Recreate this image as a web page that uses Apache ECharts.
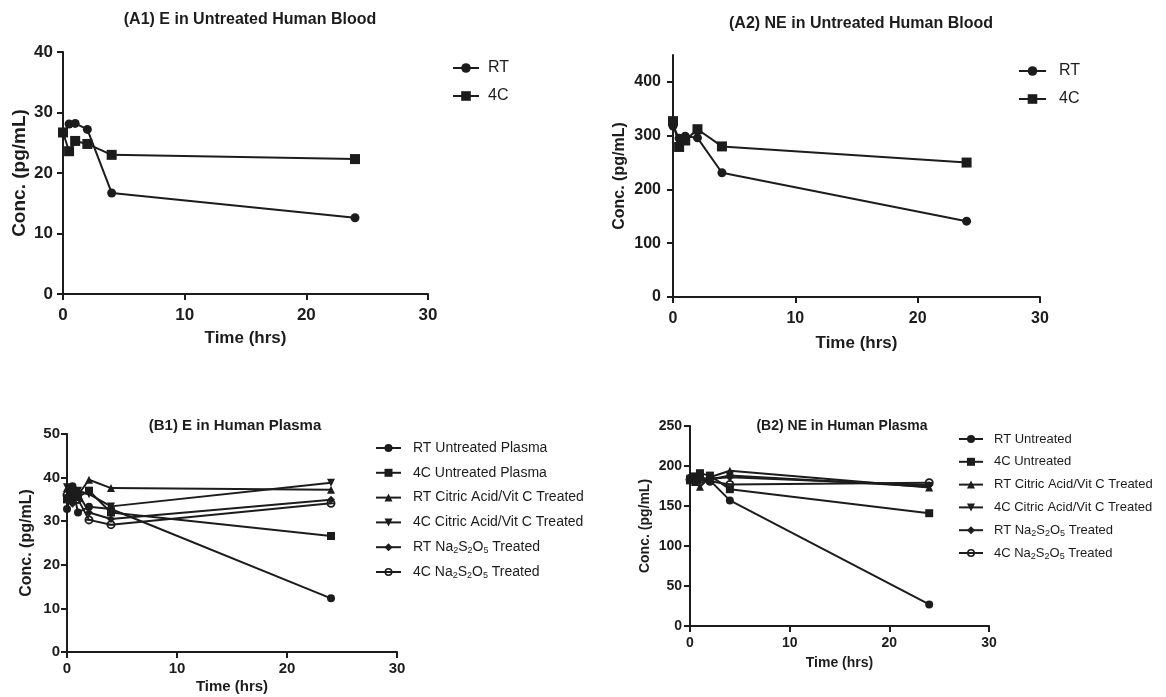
<!DOCTYPE html>
<html>
<head>
<meta charset="utf-8">
<title>Catecholamine stability</title>
<script src="https://cdn.jsdelivr.net/npm/echarts@6/dist/echarts.min.js"></script>
<style>
  html, body { margin: 0; padding: 0; background: #fff; }
  #chart { width: 1166px; height: 697px; }
</style>
</head>
<body>
<div id="chart"></div>
<script>
// sampling times (hrs)
var times = [0, 0.5, 1, 2, 4, 24];

// (A1) E in untreated human blood, pg/mL
var a1RT = [26.6, 28.1, 28.2, 27.2, 16.7, 12.6];
var a1C4 = [26.7, 23.6, 25.3, 24.8, 23.0, 22.3];

// (A2) NE in untreated human blood
var a2RT = [318, 295, 299, 296, 231, 141];
var a2C4 = [327, 279, 291, 312, 280, 250];

// (B1) E in human plasma
var b1Names = ['RT Untreated Plasma', '4C Untreated Plasma', 'RT Citric Acid/Vit C Treated',
    '4C Citric Acid/Vit C Treated', 'RT Na2S2O5 Treated', '4C Na2S2O5 Treated'];
var b1RTUntr = [32.8, 38.0, 32.0, 33.3, 32.8, 12.3];
var b1C4Untr = [35.0, 36.5, 35.5, 37.0, 32.0, 26.6];
var b1RTCit = [37.6, 37.0, 36.0, 39.5, 37.6, 37.2];
var b1C4Cit = [37.8, 35.0, 37.0, 36.2, 33.4, 38.8];
var b1RTNa = [35.5, 34.0, 36.5, 32.0, 30.5, 34.9];
var b1C4Na = [36.0, 36.8, 35.0, 30.3, 29.2, 34.1];

// (B2) NE in human plasma
var b2Names = ['RT Untreated', '4C Untreated', 'RT Citric Acid/Vit C Treated',
    '4C Citric Acid/Vit C Treated', 'RT Na2S2O5 Treated', '4C Na2S2O5 Treated'];
var b2RTUntr = [185, 183, 186, 182, 157, 27];
var b2C4Untr = [182, 187, 191, 188, 171, 141];
var b2RTCit = [183, 180, 174, 186, 194, 173];
var b2C4Cit = [184, 186, 182, 183, 188, 174];
var b2RTNa = [186, 184, 185, 184, 186, 176];
var b2C4Na = [183, 181, 183, 181, 177, 179];

// axis ticks
var xTicks = [0, 10, 20, 30];
var a2YTicks = [0, 100, 200, 300, 400];

var ink = '#1c1c1c';
var font = 'Liberation Sans, Arial, sans-serif';
// ring with a bar through it, for the 4C Na2S2O5 series
var ringBar = 'path://M0,-10A10,10,0,1,1,0,10A10,10,0,1,1,0,-10Z M0,-6A6,6,0,1,0,0,6A6,6,0,1,0,0,-6Z M-6,-1.8H6V1.8H-6Z';
var shapes = ['circle', 'rect', 'triangle', 'path://M-10,-10L10,-10L0,10Z', 'diamond', ringBar];

function pairs(vals) {
    return times.map(function (t, i) { return [t, vals[i]]; });
}

function xAxisFor(idx, labelSize, nameSize, nameGap, margin) {
    return {
        gridIndex: idx, type: 'value', min: 0, max: 30, interval: 10,
        name: 'Time (hrs)', nameLocation: 'middle', nameGap: nameGap,
        nameTextStyle: { fontFamily: font, fontWeight: 'bold', fontSize: nameSize, color: ink },
        axisLine: { lineStyle: { color: ink, width: 2 } },
        axisTick: { length: 6, lineStyle: { color: ink, width: 2 }, customValues: xTicks },
        axisLabel: { fontFamily: font, fontWeight: 'bold', fontSize: labelSize, color: ink, margin: margin, customValues: xTicks },
        splitLine: { show: false }
    };
}

function yAxisFor(idx, max, interval, labelSize, nameSize, nameGap, margin, ticks) {
    var ax = {
        gridIndex: idx, type: 'value', min: 0, max: max, interval: interval,
        name: 'Conc. (pg/mL)', nameLocation: 'middle', nameGap: nameGap,
        nameTextStyle: { fontFamily: font, fontWeight: 'bold', fontSize: nameSize, color: ink },
        axisLine: { show: true, lineStyle: { color: ink, width: 2 } },
        axisTick: { show: true, length: 6, lineStyle: { color: ink, width: 2 } },
        axisLabel: { fontFamily: font, fontWeight: 'bold', fontSize: labelSize, color: ink, margin: margin },
        splitLine: { show: false }
    };
    if (ticks) {
        ax.axisTick.customValues = ticks;
        ax.axisLabel.customValues = ticks;
    }
    return ax;
}

function lineSeries(name, vals, idx, symbol, size) {
    return {
        name: name, type: 'line', xAxisIndex: idx, yAxisIndex: idx,
        data: pairs(vals), symbol: symbol, symbolSize: size,
        lineStyle: { color: ink, width: 2 },
        itemStyle: { color: ink },
        animation: false
    };
}

function subFormatter(name) {
    return name.replace('Na2S2O5', 'Na{sub|2}S{sub|2}O{sub|5}');
}

var subRich = { sub: { fontSize: 9, fontFamily: font, color: ink, padding: [7, 0, 0, 0] } };

var b1Vals = [b1RTUntr, b1C4Untr, b1RTCit, b1C4Cit, b1RTNa, b1C4Na];
var b2Vals = [b2RTUntr, b2C4Untr, b2RTCit, b2C4Cit, b2RTNa, b2C4Na];

var series = [
    lineSeries('RT', a1RT, 0, 'circle', 9),
    lineSeries('4C', a1C4, 0, 'rect', 10),
    lineSeries('RT ', a2RT, 1, 'circle', 9),
    lineSeries('4C ', a2C4, 1, 'rect', 10)
];
b1Names.forEach(function (n, i) {
    series.push(lineSeries(n, b1Vals[i], 2, shapes[i], i == 5 ? 9 : 8));
});
b2Names.forEach(function (n, i) {
    series.push(lineSeries(n + ' ', b2Vals[i], 3, shapes[i], i == 5 ? 9 : 8));
});

var chart = echarts.init(document.getElementById('chart'));

var titleStyle = { fontFamily: font, fontWeight: 'bold', color: ink };

chart.setOption({
    backgroundColor: '#fff',
    animation: false,
    title: [
        { text: '(A1) E in Untreated Human Blood', left: 245, top: 7, textAlign: 'center', textStyle: Object.assign({ fontSize: 16 }, titleStyle) },
        { text: '(A2) NE in Untreated Human Blood', left: 856, top: 11, textAlign: 'center', textStyle: Object.assign({ fontSize: 16 }, titleStyle) },
        { text: '(B1) E in Human Plasma', left: 230, top: 413, textAlign: 'center', textStyle: Object.assign({ fontSize: 15 }, titleStyle) },
        { text: '(B2) NE in Human Plasma', left: 837, top: 414, textAlign: 'center', textStyle: Object.assign({ fontSize: 14 }, titleStyle) }
    ],
    grid: [
        { left: 63, top: 52, width: 365, height: 242 },
        { left: 673, top: 55, width: 367, height: 242 },
        { left: 67, top: 434, width: 330, height: 218 },
        { left: 690, top: 426, width: 299, height: 200 }
    ],
    xAxis: [
        xAxisFor(0, 17, 17, 36, 13),
        xAxisFor(1, 16, 17, 38, 14),
        xAxisFor(2, 15, 15, 27, 9),
        xAxisFor(3, 14, 14, 30, 10)
    ],
    yAxis: [
        yAxisFor(0, 40, 10, 17, 19, 34, 10),
        yAxisFor(1, 450, 50, 16, 16, 45, 12, a2YTicks),
        yAxisFor(2, 50, 10, 15, 16, 32, 7),
        yAxisFor(3, 250, 50, 14, 14, 38, 8)
    ],
    legend: [
        {
            data: ['RT', '4C'], left: 452, top: 60, orient: 'vertical', padding: 0,
            itemWidth: 26, itemHeight: 12, itemGap: 12,
            textStyle: { fontFamily: font, fontSize: 16, color: ink, lineHeight: 16, padding: [0, 0, 0, 4] }
        },
        {
            data: ['RT ', '4C '], left: 1018, top: 63, orient: 'vertical', padding: 0,
            itemWidth: 27, itemHeight: 12, itemGap: 12,
            formatter: function (n) { return n.trim(); },
            textStyle: { fontFamily: font, fontSize: 16, color: ink, lineHeight: 16, padding: [0, 0, 0, 8] }
        },
        {
            data: b1Names, left: 375, top: 440, orient: 'vertical', padding: 0,
            itemWidth: 25, itemHeight: 10, itemGap: 8.8,
            formatter: subFormatter,
            textStyle: { fontFamily: font, fontSize: 14, color: ink, lineHeight: 16, padding: [0, 0, 0, 7], rich: subRich }
        },
        {
            data: b2Names.map(function (n) { return n + ' '; }), left: 958, top: 431, orient: 'vertical', padding: 0,
            itemWidth: 24, itemHeight: 10, itemGap: 6.8,
            formatter: function (n) { return subFormatter(n.trim()); },
            textStyle: { fontFamily: font, fontSize: 13, color: ink, lineHeight: 16, padding: [0, 0, 0, 6], rich: subRich }
        }
    ],
    series: series
});
</script>
</body>
</html>
